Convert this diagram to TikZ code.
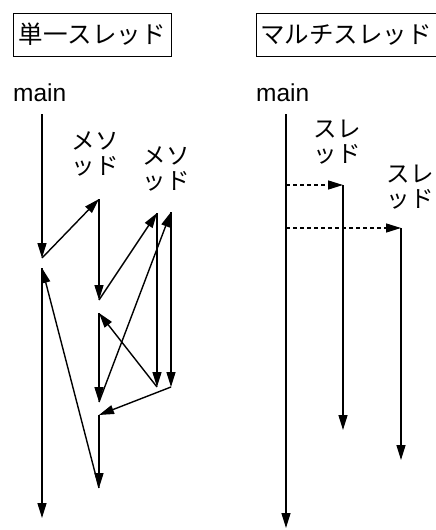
\documentclass[tikz,border=0pt]{standalone}
\usepackage{fontspec}
\setmainfont{Liberation Sans}
\newfontfamily\jp{Noto Sans CJK JP}
\usetikzlibrary{arrows.meta}
\tikzset{
	ttl/.style={draw,line width=1pt,inner sep=0pt,minimum height=43pt,font=\jp\fontsize{24.5}{26}\selectfont},
	lbl/.style={align=center,inner sep=0pt,font=\jp\fontsize{23.5}{25}\selectfont},
	mn/.style={anchor=base west,inner sep=0pt,font=\fontsize{24.5}{26}\selectfont},
	arr/.style={line width=1.4pt,-{Triangle[length=15pt,width=9pt]}},
	thr/.style={arr,dash pattern=on 4pt off 3pt}
}

\begin{document}
\begin{tikzpicture}[x=1pt,y=-1pt]
\useasboundingbox (0,0) rectangle (436,530);
\begin{scope}
	\node[ttl,minimum width=158pt] (single) at (92,34.5) {単一スレッド};
	\node[mn] (main1) at (13,101) {main};
	\node[lbl] (meth1) at (95,154) {メソ\\ッド};
	\node[lbl] (meth2) at (166,169) {メソ\\ッド};
	\coordinate (m0) at (42,114);
	\coordinate (m1) at (42,258);
	\coordinate (m2) at (42,268);
	\coordinate (m3) at (42,518);
	\coordinate (a0) at (99,199);
	\coordinate (a1) at (99,300);
	\coordinate (a2) at (99,313);
	\coordinate (a3) at (99,402);
	\coordinate (a4) at (99,415);
	\coordinate (a5) at (99,488);
	\coordinate (b0) at (157,213);
	\coordinate (b1) at (157,387);
	\coordinate (c0) at (171,212);
	\coordinate (c1) at (171,387);
	\draw[arr] (m0)--(m1);
	\draw[arr] (m1)--(a0);
	\draw[arr] (a0)--(a1);
	\draw[arr] (a1)--(b0);
	\draw[arr] (b0)--(b1);
	\draw[arr] (b1)--(a2);
	\draw[arr] (a2)--(a3);
	\draw[arr] (a3)--(c0);
	\draw[arr] (c0)--(c1);
	\draw[arr] (c1)--(a4);
	\draw[arr] (a4)--(a5);
	\draw[arr] (a5)--(m2);
	\draw[arr] (m2)--(m3);
\end{scope}
\begin{scope}
	\node[ttl,minimum width=180pt] (multi) at (346,34.5) {マルチスレッド};
	\node[mn] (main2) at (256,101) {main};
	\node[lbl] (thr1) at (337,142) {スレ\\ッド};
	\node[lbl] (thr2) at (410,187) {スレ\\ッド};
	\coordinate (n0) at (286,114);
	\coordinate (n1) at (286,528);
	\coordinate (f0) at (286,185);
	\coordinate (f1) at (286,228);
	\coordinate (t0) at (343,185);
	\coordinate (t1) at (343,430);
	\coordinate (s0) at (401,228);
	\coordinate (s1) at (401,460);
	\draw[arr] (n0)--(n1);
	\draw[thr] (f0)--(t0);
	\draw[thr] (f1)--(s0);
	\draw[arr] (t0)--(t1);
	\draw[arr] (s0)--(s1);
\end{scope}
\end{tikzpicture}
\end{document}
